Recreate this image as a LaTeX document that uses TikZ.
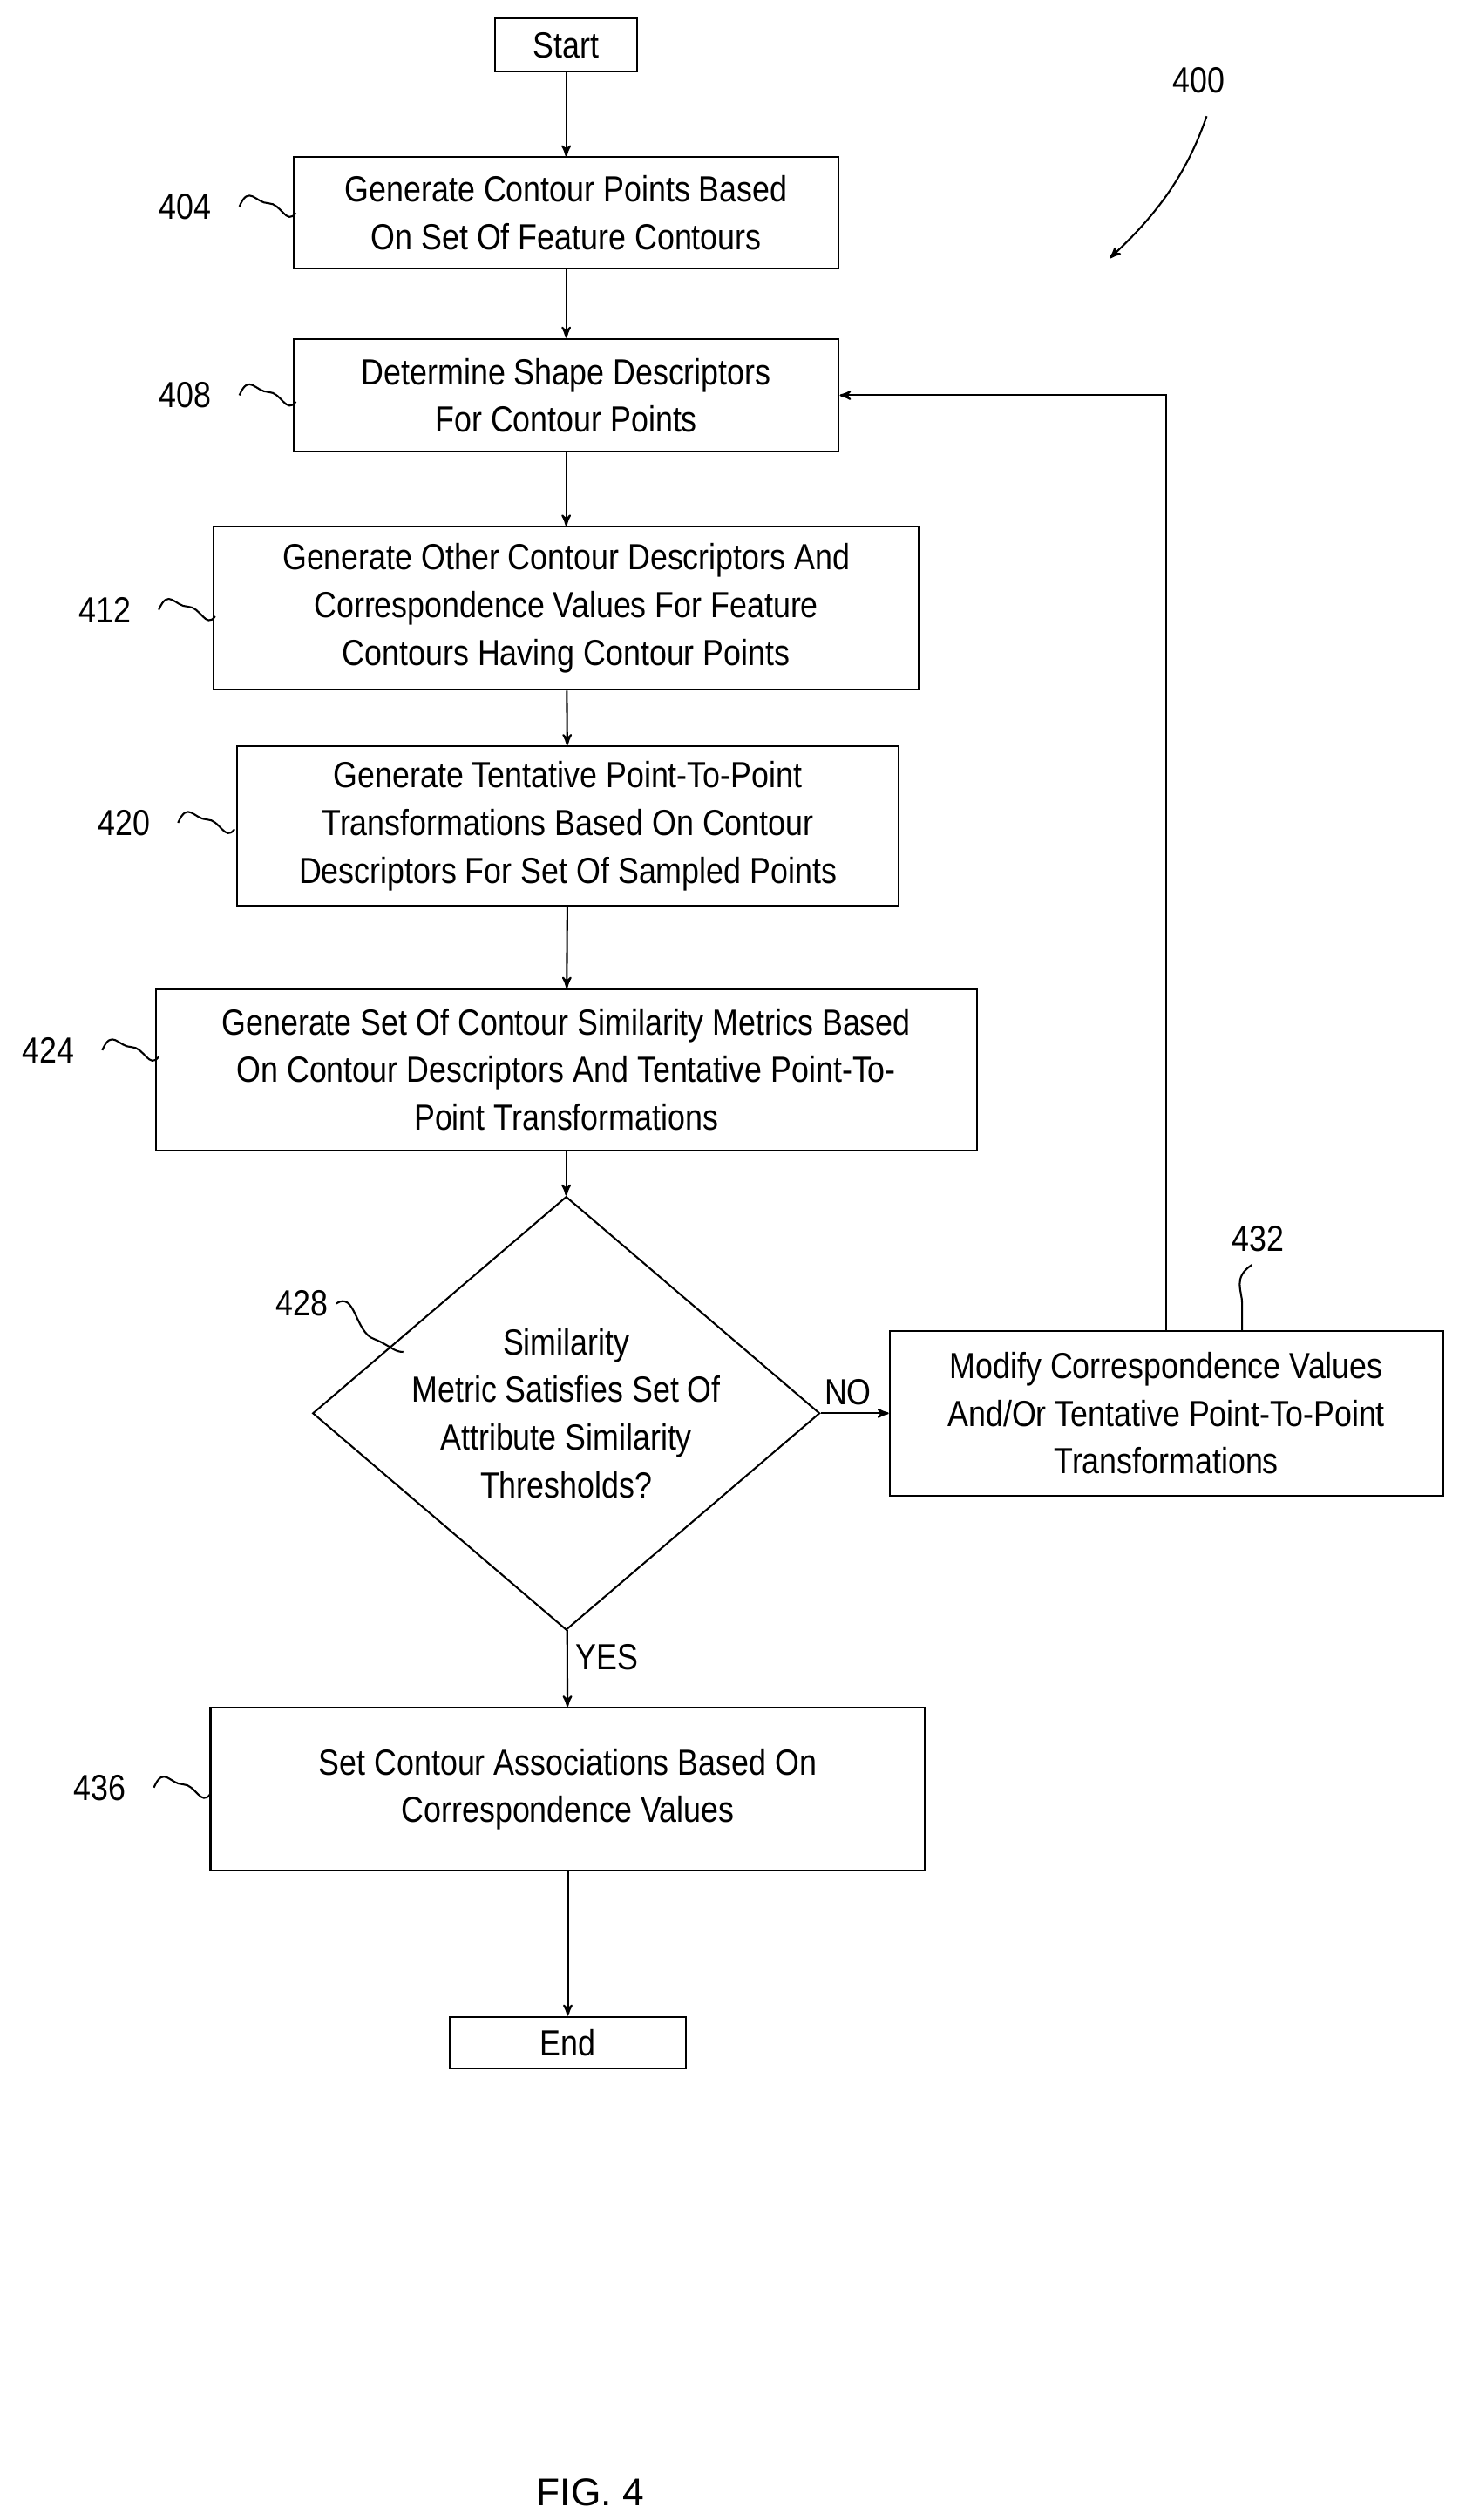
\documentclass[tikz,border=0pt]{standalone}
\usepackage{fontspec}
\setmainfont{Liberation Sans}[FakeStretch=0.86]
\newfontfamily\figfont{Liberation Sans}
\usetikzlibrary{arrows, shapes.geometric, positioning}
\tikzstyle{block}=[rectangle, draw, thick, align=center, font=\fontsize{16}{21}\selectfont, inner sep=2pt]
\tikzstyle{decision}=[diamond, draw, thick, align=center, font=\fontsize{16}{21}\selectfont, aspect=1.17, inner sep=0pt]
\tikzstyle{ref}=[font=\fontsize{16}{20}\selectfont]
\tikzstyle{squig}=[thick]

\begin{document}
\begin{tikzpicture}[x=0.025cm, y=-0.025cm, >=stealth', thick]
    \useasboundingbox (0,0) rectangle (904,1562);

    \node[block, minimum width=88*0.025cm, minimum height=33*0.025cm] (start) at (351,28) {Start};
    \node[block, minimum width=338*0.025cm, minimum height=69*0.025cm] (s404) at (351,132) {Generate Contour Points Based\\On Set Of Feature Contours};
    \node[block, minimum width=338*0.025cm, minimum height=70*0.025cm] (s408) at (351,245) {Determine Shape Descriptors\\For Contour Points};
    \node[block, minimum width=437*0.025cm, minimum height=101*0.025cm] (s412) at (351,377) {Generate Other Contour Descriptors And\\Correspondence Values For Feature\\Contours Having Contour Points};
    \node[block, minimum width=410*0.025cm, minimum height=99*0.025cm] (s420) at (352,512) {Generate Tentative Point-To-Point\\Transformations Based On Contour\\Descriptors For Set Of Sampled Points};
    \node[block, minimum width=509*0.025cm, minimum height=100*0.025cm] (s424) at (351,663) {Generate Set Of Contour Similarity Metrics Based\\On Contour Descriptors And Tentative Point-To-\\Point Transformations};
    \node[decision, minimum width=282*0.025cm] (s428) at (351,876) {Similarity\\Metric Satisfies Set Of\\Attribute Similarity\\Thresholds?};
    \node[block, minimum width=343*0.025cm, minimum height=102*0.025cm] (s432) at (723,876) {Modify Correspondence Values\\And/Or Tentative Point-To-Point\\Transformations};
    \node[block, minimum width=443*0.025cm, minimum height=101*0.025cm] (s436) at (352,1109) {Set Contour Associations Based On\\Correspondence Values};
    \node[block, minimum width=146*0.025cm, minimum height=32*0.025cm] (end) at (352,1266) {End};

    \draw[->] (start) -- (s404);
    \draw[->] (s404) -- (s408);
    \draw[->] (s408) -- (s412);
    \draw[->] (s412) -- (s420);
    \draw[->] (s420) -- (s424);
    \draw[->] (s424) -- (s428);
    \draw[->] (s428) -- node[above, ref, pos=0.4] {NO} (s432);
    \draw[->] (s428) -- node[right, ref, pos=0.35] {YES} (s436);
    \draw[->] (s436) -- (end);
    \draw[->] (s432.north) |- (s408.east);

    % reference numerals
    \node[ref] (n404) at (115,128) {404};
    \node[ref] (n408) at (115,245) {408};
    \node[ref] (n412) at (65,378) {412};
    \node[ref] (n420) at (77,510) {420};
    \node[ref] (n424) at (30,651) {424};
    \node[ref] (n428) at (187,808) {428};
    \node[ref] (n432) at (780,768) {432};
    \node[ref] (n436) at (62,1108) {436};
    \node[ref] (n400) at (743,50) {400};

    \foreach \n in {404, 408, 412, 420, 424, 436} {
        \draw[squig] ([xshift=3mm]n\n.east) .. controls +(6,-14) and +(-8,0) .. +(18,-2)
              .. controls +(8,0) and +(-6,8) .. ([xshift=3mm+35*0.025cm, yshift=-1mm]n\n.east);
    }
    \draw[squig] (n428.east) .. controls +(12,-8) and +(-12,-4) .. (232,830) .. controls +(10,4) and +(-6,0) .. (250,838);
    \draw[squig] (776,784) .. controls +(-12,8) and +(0,-8) .. (770,808) .. controls +(0,8) and +(0,-6) .. (770,825);
    \draw[->] (748,72) .. controls (735,110) and (715,135) .. (688,160);

    \node[font=\figfont\fontsize{17}{20}\selectfont] (fig) at (366,1545) {FIG. 4};
\end{tikzpicture}
\end{document}
